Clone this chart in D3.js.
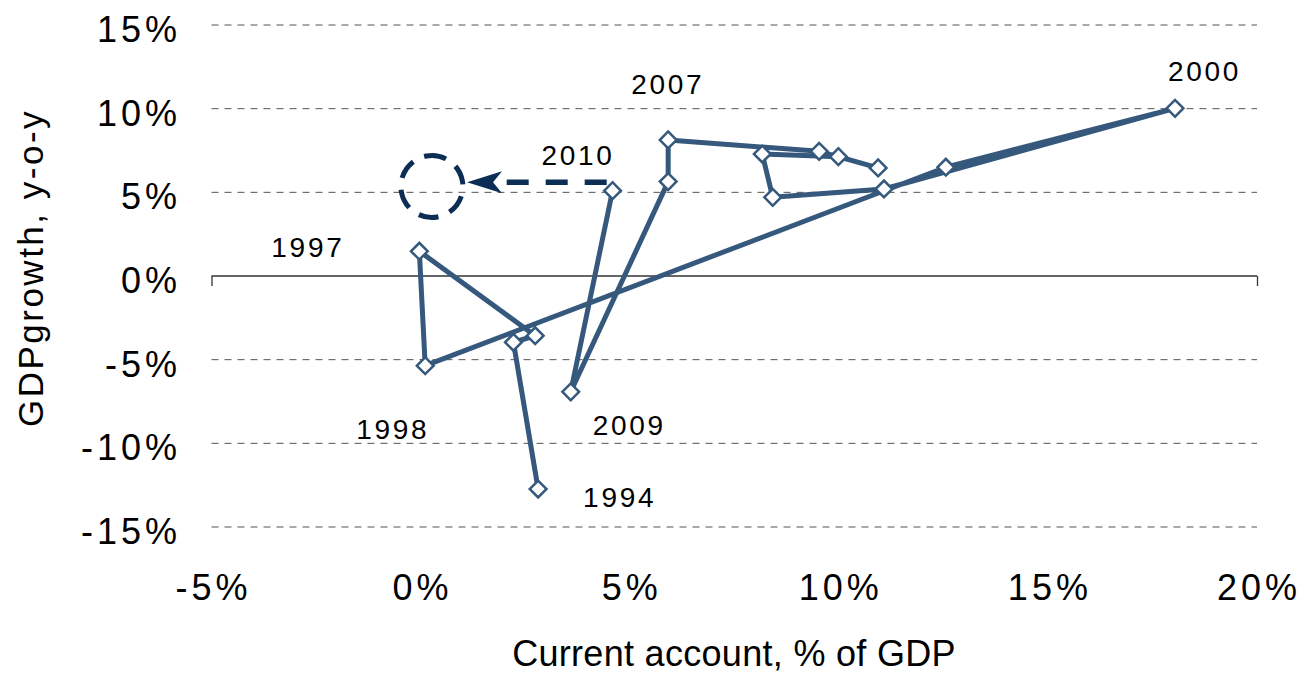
<!DOCTYPE html>
<html>
<head>
<meta charset="utf-8">
<script src="https://cdn.jsdelivr.net/npm/d3@7"></script>
<style>
    body { margin: 0; background: #fff; }
    text { font-family: "Liberation Sans", Arial, sans-serif; fill: #000; }
</style>
</head>
<body>
<div id="chart"></div>
<script>
// Data: year, current account (% of GDP), GDP growth (y-o-y, %)
const years = [1994, 1995, 1996, 1997, 1998, 1999, 2000, 2001, 2002, 2003, 2004, 2005, 2006, 2007, 2008, 2009, 2010];
const currentAccount = [2.81, 2.22, 2.74, -0.03, 0.11, 12.56, 18.04, 11.08, 8.42, 8.17, 9.99, 10.94, 9.53, 5.92, 5.92, 3.59, 4.59];
const gdpGrowth = [-12.73, -3.96, -3.57, 1.48, -5.36, 6.5, 10.02, 5.2, 4.7, 7.29, 7.13, 6.46, 7.45, 8.13, 5.64, -6.92, 5.1];

// Years that get a text label
const labelledYears = [1994, 1997, 1998, 2000, 2007, 2009, 2010];

// Axis ticks
const xTicks = [-5, 0, 5, 10, 15, 20];
const yTicks = [-15, -10, -5, 0, 5, 10, 15];

// Arrow from the 2010 point to the dashed circle (data coordinates)
const arrowFrom = [4.45, 5.6];
const arrowTo = [1.11, 5.6];
const circleCenter = [0.27, 5.35];

document.addEventListener('DOMContentLoaded', function () {
    renderChart();
});

function renderChart() {
    const width = 1300, height = 676;
    const lineColor = "#35587c";
    const navy = "#0c2d54";

    const svg = d3.select("#chart")
        .append("svg")
        .attr("width", width)
        .attr("height", height);

    const x = d3.scaleLinear().domain([-5, 20]).range([211.5, 1257]);
    const y = d3.scaleLinear().domain([-15, 15]).range([527, 25]);

    const points = years.map((yr, i) => ({ year: yr, ca: currentAccount[i], g: gdpGrowth[i] }));

    // Gridlines (dashed), zero line solid
    svg.append("g")
        .selectAll("line")
        .data(yTicks.filter(d => d !== 0))
        .enter().append("line")
        .attr("x1", x(-5))
        .attr("x2", x(20))
        .attr("y1", d => y(d))
        .attr("y2", d => y(d))
        .attr("stroke", "#555")
        .attr("stroke-width", 1)
        .attr("stroke-dasharray", "7,6");

    // X axis at 0%, ticks only at the ends
    const xAxis = d3.axisBottom(x)
        .tickValues([-5, 20])
        .tickSize(10)
        .tickFormat("");
    const ax = svg.append("g")
        .attr("transform", "translate(0," + y(0) + ")")
        .call(xAxis);
    ax.select(".domain").attr("stroke", "#333").attr("stroke-width", 1.3).attr("d", `M${x(-5)},0H${x(20)}`);
    ax.selectAll(".tick line").attr("stroke", "#333").attr("stroke-width", 1.3);

    // Y tick labels
    svg.append("g")
        .selectAll("text")
        .data(yTicks)
        .enter().append("text")
        .attr("x", 181)
        .attr("y", d => y(d) + 17)
        .attr("text-anchor", "end")
        .style("font-size", "36px")
        .style("letter-spacing", "4px")
        .text(d => d + "%");

    // X tick labels
    svg.append("g")
        .selectAll("text")
        .data(xTicks)
        .enter().append("text")
        .attr("x", d => x(d) + 2)
        .attr("y", 600)
        .attr("text-anchor", "middle")
        .style("font-size", "36px")
        .style("letter-spacing", "4px")
        .text(d => d + "%");

    // Axis titles
    svg.append("text")
        .attr("x", 734)
        .attr("y", 666)
        .attr("text-anchor", "middle")
        .style("font-size", "36px")
        .style("letter-spacing", "0.3px")
        .text("Current account, % of GDP");

    svg.append("text")
        .attr("transform", "translate(43,268) rotate(-90)")
        .attr("text-anchor", "middle")
        .style("font-size", "35px")
        .style("letter-spacing", "2.5px")
        .text("GDPgrowth, y-o-y");

    // Connected path through the years
    const line = d3.line()
        .x(d => x(d.ca))
        .y(d => y(d.g));

    svg.append("path")
        .datum(points)
        .attr("d", line)
        .attr("fill", "none")
        .attr("stroke", lineColor)
        .attr("stroke-width", 5)
        .attr("stroke-linejoin", "round");

    // Diamond markers
    svg.append("g")
        .selectAll("path")
        .data(points)
        .enter().append("path")
        .attr("d", d3.symbol(d3.symbolSquare, 140))
        .attr("transform", d => `translate(${x(d.ca)},${y(d.g)}) rotate(45)`)
        .attr("fill", "#fff")
        .attr("stroke", lineColor)
        .attr("stroke-width", 2.5);

    // Year labels, offset in pixels from their point
    const labelOffset = {
        1994: [45, 18], 1997: [-148, 6], 1998: [-69, 73], 2000: [-7, -27],
        2007: [-37, -46], 2009: [22, 43], 2010: [-71, -26]
    };
    svg.append("g")
        .selectAll("text")
        .data(points.filter(d => labelledYears.includes(d.year)))
        .enter().append("text")
        .attr("x", d => x(d.ca) + labelOffset[d.year][0])
        .attr("y", d => y(d.g) + labelOffset[d.year][1])
        .style("font-size", "28px")
        .style("letter-spacing", "2.7px")
        .text(d => d.year);

    // Dashed arrow and circle
    const ax1 = x(arrowFrom[0]), ay = y(arrowFrom[1]), tipX = x(arrowTo[0]);
    svg.append("line")
        .attr("x1", ax1)
        .attr("x2", tipX + 28)
        .attr("y1", ay)
        .attr("y2", ay)
        .attr("stroke", navy)
        .attr("stroke-width", 5.5)
        .attr("stroke-dasharray", "22,17");

    svg.append("path")
        .attr("d", `M${tipX},${ay} L${tipX + 35},${ay - 11} L${tipX + 26},${ay} L${tipX + 35},${ay + 11} Z`)
        .attr("fill", navy);

    svg.append("circle")
        .attr("cx", x(circleCenter[0]))
        .attr("cy", y(circleCenter[1]))
        .attr("r", 31)
        .attr("fill", "none")
        .attr("stroke", navy)
        .attr("stroke-width", 5)
        .attr("stroke-dasharray", "20,12")
        .attr("transform", `rotate(-100,${x(circleCenter[0])},${y(circleCenter[1])})`);
}
</script>
</body>
</html>
